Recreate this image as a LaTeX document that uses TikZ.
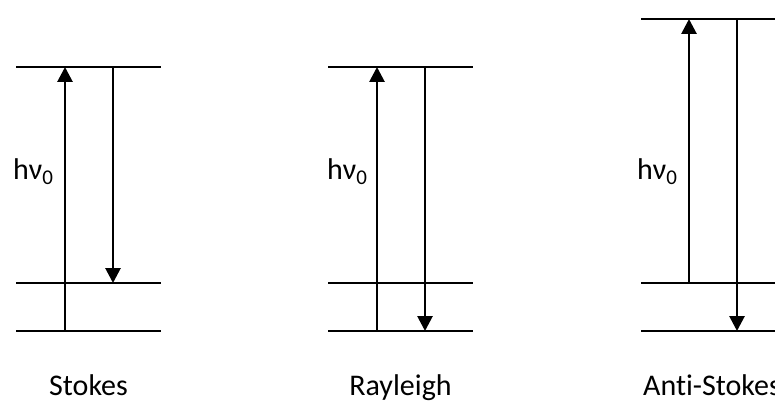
\documentclass[tikz,border=0pt]{standalone}
\usepackage{fontspec}
\setmainfont{Carlito}[Ligatures=NoCommon]
\usetikzlibrary{arrows.meta, positioning}

\begin{document}
\begin{tikzpicture}[x=1pt, y=-1pt,
  level/.style={line width=1.7pt},
  transition/.style={line width=2.8pt, -{Triangle[length=15pt, width=15pt]}},
  lbl/.style={font=\fontsize{30}{36}\selectfont, inner sep=0pt}]
  \clip (0,0) rectangle (775,401);

  % Stokes
  \draw[level] (16,67) -- (161,67);
  \draw[level] (16,283) -- (161,283);
  \draw[level] (16,331) -- (161,331);
  \coordinate (st-ground) at (65,331);
  \coordinate (st-virtual) at (65,67);
  \coordinate (st-out) at (113,67);
  \coordinate (st-vib) at (113,283);
  \draw[transition] (st-ground) -- (st-virtual);
  \draw[transition] (st-out) -- (st-vib);
  \node[lbl, anchor=base west] (st-hv) at (13,179) {hν\textsubscript{0}};
  \node[lbl, anchor=base] (st-name) at (88.5,395) {Stokes};

  % Rayleigh
  \draw[level] (328,67) -- (473,67);
  \draw[level] (328,283) -- (473,283);
  \draw[level] (328,331) -- (473,331);
  \coordinate (ra-ground) at (377,331);
  \coordinate (ra-virtual) at (377,67);
  \coordinate (ra-out) at (425,67);
  \coordinate (ra-back) at (425,331);
  \draw[transition] (ra-ground) -- (ra-virtual);
  \draw[transition] (ra-out) -- (ra-back);
  \node[lbl, anchor=base west] (ra-hv) at (327,179) {hν\textsubscript{0}};
  \node[lbl, anchor=base] (ra-name) at (400.5,395) {Rayleigh};

  % Anti-Stokes
  \draw[level] (641,19) -- (786,19);
  \draw[level] (641,283) -- (786,283);
  \draw[level] (641,331) -- (786,331);
  \coordinate (as-vib) at (689,283);
  \coordinate (as-virtual) at (689,19);
  \coordinate (as-out) at (737,19);
  \coordinate (as-ground) at (737,331);
  \draw[transition] (as-vib) -- (as-virtual);
  \draw[transition] (as-out) -- (as-ground);
  \node[lbl, anchor=base west] (as-hv) at (637,179) {hν\textsubscript{0}};
  \node[lbl, anchor=base west] (as-name) at (643,395) {Anti-Stokes};
\end{tikzpicture}
\end{document}
